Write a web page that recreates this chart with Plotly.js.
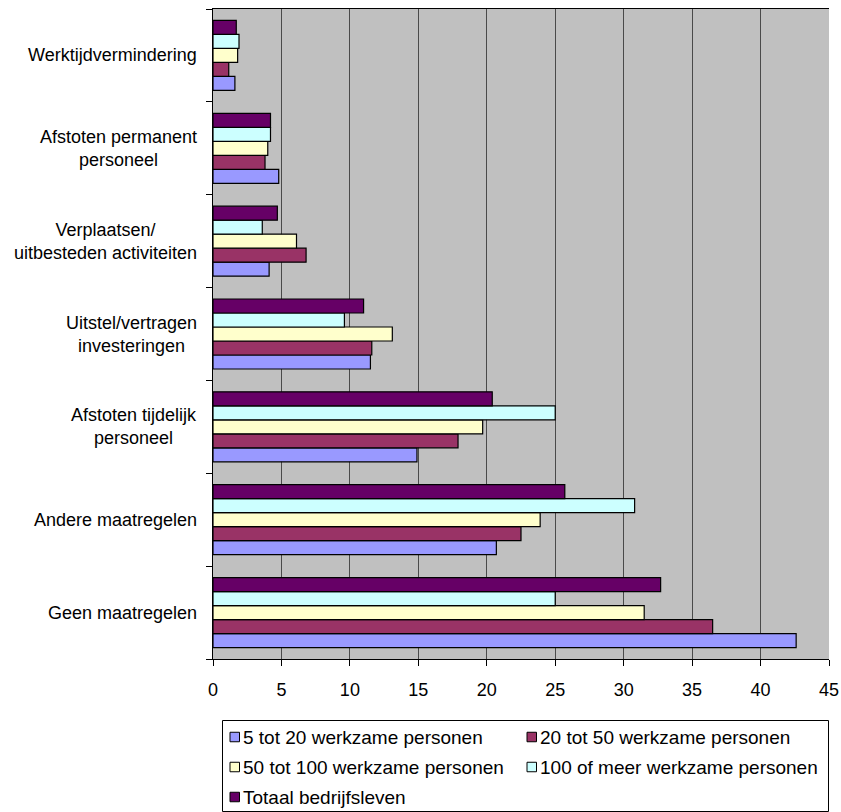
<!DOCTYPE html>
<html>
<head>
<meta charset="utf-8">
<script src="https://cdn.plot.ly/plotly-3.0.1.min.js"></script>
<style>html,body{margin:0;padding:0;background:#fff;}#chart{width:841px;height:812px;}</style>
</head>
<body>
<div id="chart"></div>
<script>
// Categories listed bottom-to-top (as drawn on the y axis)
const categories = [
  "Geen maatregelen",
  "Andere maatregelen",
  "Afstoten tijdelijk<br>personeel",
  "Uitstel/vertragen<br>investeringen",
  "Verplaatsen/<br>uitbesteden activiteiten",
  "Afstoten permanent<br>personeel",
  "Werktijdvermindering"
];
const seriesNames = [
  "5 tot 20 werkzame personen",
  "20 tot 50 werkzame personen",
  "50 tot 100 werkzame personen",
  "100 of meer werkzame personen",
  "Totaal bedrijfsleven"
];
const s5tot20   = [42.6, 20.7, 14.9, 11.5, 4.1, 4.8, 1.6];
const s20tot50  = [36.5, 22.5, 17.9, 11.6, 6.8, 3.8, 1.15];
const s50tot100 = [31.5, 23.9, 19.7, 13.1, 6.1, 4.0, 1.8];
const s100plus  = [25.0, 30.8, 25.0, 9.6, 3.6, 4.2, 1.9];
const sTotaal   = [32.7, 25.7, 20.4, 11.0, 4.7, 4.2, 1.7];
const xTicks = [0, 5, 10, 15, 20, 25, 30, 35, 40, 45];

const values = [s5tot20, s20tot50, s50tot100, s100plus, sTotaal];
const colors = ["#9999FF", "#993366", "#FFFFCC", "#CCFFFF", "#660066"];

const FONT = "Liberation Sans, Arial, sans-serif";

// page geometry (pixels)
const W = 841, H = 812;
const M = {l: 213, r: 12, t: 9, b: 153};
const PW = W - M.l - M.r, PH = H - M.t - M.b;
const px2x = px => (px - M.l) / PW;
const py2y = py => (H - M.b - py) / PH;

const traces = values.map((v, i) => ({
  type: "bar",
  orientation: "h",
  name: seriesNames[i],
  x: v,
  y: categories,
  marker: {color: colors[i], line: {color: "#000000", width: 1.2}},
  hoverinfo: "x+name",
  showlegend: false
}));

const annotations = categories.map(c => ({
  xref: "paper", yref: "y",
  x: 0, y: c,
  xanchor: "right", yanchor: "middle",
  xshift: -14,
  text: c,
  align: "center",
  showarrow: false,
  font: {family: FONT, size: 18, color: "#000"}
}));

// Legend box drawn from the series names and colours (two columns)
const shapes = [{
  type: "rect", xref: "paper", yref: "paper",
  x0: px2x(222.5), x1: px2x(828.5), y0: py2y(720.5), y1: py2y(811.5),
  line: {color: "#000", width: 1}, fillcolor: "#FFFFFF", layer: "above"
}];
const colX = [230, 527];
const rowY = [737, 767, 797];
seriesNames.forEach((n, i) => {
  const cx = colX[i % 2], cy = rowY[Math.floor(i / 2)];
  shapes.push({
    type: "rect", xref: "paper", yref: "paper",
    x0: px2x(cx), x1: px2x(cx + 9.5), y0: py2y(cy - 4.75), y1: py2y(cy + 4.75),
    line: {color: "#000", width: 1}, fillcolor: colors[i], layer: "above"
  });
  annotations.push({
    xref: "paper", yref: "paper",
    x: px2x(cx + 11), y: py2y(cy),
    xanchor: "left", yanchor: "middle",
    text: n, showarrow: false, align: "left",
    font: {family: FONT, size: 19, color: "#000"}
  });
});

const layout = {
  width: W, height: H,
  margin: {l: M.l, r: M.r, t: M.t, b: M.b, pad: 0},
  paper_bgcolor: "#FFFFFF",
  plot_bgcolor: "#C0C0C0",
  barmode: "group",
  bargap: 0.246,
  bargroupgap: 0,
  showlegend: false,
  font: {family: FONT, size: 18, color: "#000"},
  xaxis: {
    range: [0, 45],
    tickvals: xTicks,
    ticktext: xTicks.map(String),
    showgrid: true, gridcolor: "#4a4a4a", gridwidth: 1,
    zeroline: false,
    showline: true, linecolor: "#000", linewidth: 1, mirror: true,
    ticks: "outside", ticklen: 6, tickcolor: "#000", tickwidth: 1,
    ticklabelstandoff: 8,
    tickfont: {family: FONT, size: 18, color: "#000"},
    fixedrange: true
  },
  yaxis: {
    type: "category",
    categoryorder: "array",
    categoryarray: categories,
    showticklabels: false,
    tickson: "boundaries",
    ticks: "outside", ticklen: 6, tickcolor: "#000", tickwidth: 1,
    showgrid: false,
    zeroline: false,
    showline: true, linecolor: "#000", linewidth: 1,
    fixedrange: true
  },
  shapes: shapes,
  annotations: annotations
};

Plotly.newPlot("chart", traces, layout, {displayModeBar: false, staticPlot: true});
</script>
</body>
</html>
